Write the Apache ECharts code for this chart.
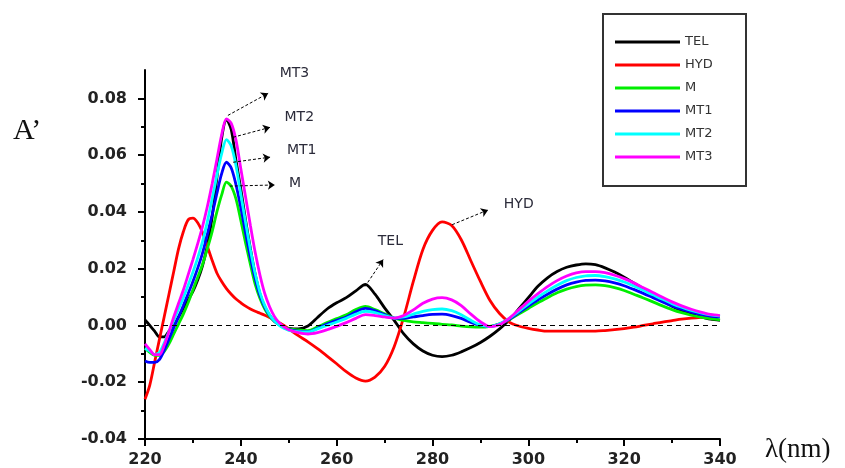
<!DOCTYPE html>
<html>
<head>
<meta charset="utf-8">
<script src="https://cdn.jsdelivr.net/npm/echarts@6/dist/echarts.min.js"></script>
<style>
  html, body { margin: 0; background: #fff; }
  #chart { width: 845px; height: 468px; }
</style>
</head>
<body>
<div id="chart"></div>
<script>
// wavelength grid (nm): 1 nm steps through the sharp peak, 2 nm after
const wavelength = [
  220, 221, 222, 223, 224, 225, 226, 227, 228, 229,
  230, 231, 232, 233, 234, 235, 236, 237, 238, 239,
  240, 241, 242, 243, 244, 245, 246, 247, 248, 249,
  250,
  252, 254, 256, 258, 260, 262, 264, 266, 268, 270,
  272, 274, 276, 278, 280, 282, 284, 286, 288, 290,
  292, 294, 296, 298, 300, 302, 304, 306, 308, 310,
  312, 314, 316, 318, 320, 322, 324, 326, 328, 330,
  332, 334, 336, 338, 340
];

const tel = [
  0.002, 0.000, -0.002, -0.004, -0.004, -0.002, 0.000, 0.003, 0.006, 0.009,
  0.012, 0.016, 0.021, 0.028, 0.038, 0.052, 0.066, 0.0725, 0.069, 0.058,
  0.048, 0.037, 0.027, 0.018, 0.011, 0.0065, 0.0035, 0.0015, 0.0003, -0.0005,
  -0.001,
  -0.0012, -0.0002, 0.0028, 0.0058, 0.008, 0.0098, 0.0122, 0.0145, 0.011, 0.0062,
  0.0018, -0.003, -0.0065, -0.009, -0.0105, -0.011, -0.0105, -0.0093, -0.0078, -0.006,
  -0.0038, -0.0012, 0.0018, 0.0058, 0.0098, 0.0138, 0.0168, 0.019, 0.0205, 0.0213,
  0.0217, 0.0214, 0.0203, 0.0188, 0.017, 0.015, 0.013, 0.0108, 0.0088, 0.0068,
  0.0052, 0.004, 0.003, 0.0022, 0.0018
];

const hyd = [
  -0.026, -0.021, -0.013, -0.005, 0.003, 0.011, 0.019, 0.027, 0.033, 0.0372,
  0.0378, 0.0362, 0.0328, 0.028, 0.023, 0.0185, 0.0155, 0.013, 0.011, 0.0093,
  0.008, 0.0068, 0.0058, 0.005, 0.0043, 0.0036, 0.0028, 0.002, 0.001, 0.0,
  -0.0012,
  -0.0036, -0.0058, -0.0082, -0.0108, -0.0135, -0.0163, -0.0185, -0.0196, -0.0182, -0.0145,
  -0.0075, 0.003, 0.0155, 0.0268, 0.0335, 0.0365, 0.0352, 0.0302, 0.0228, 0.0155,
  0.0088, 0.0042, 0.0012, -0.0002, -0.001, -0.0016, -0.002, -0.002, -0.002, -0.002,
  -0.002, -0.002, -0.0018, -0.0015, -0.0011, -0.0006, 0.0, 0.0006, 0.0012, 0.0017,
  0.0022, 0.0026, 0.0029, 0.0031, 0.0032
];

const m = [
  -0.008, -0.0095, -0.0105, -0.0105, -0.0092, -0.0065, -0.003, 0.0005, 0.004, 0.008,
  0.0125, 0.017, 0.0215, 0.027, 0.033, 0.040, 0.046, 0.0505, 0.049, 0.0445,
  0.037, 0.029, 0.0215, 0.0145, 0.0095, 0.0058, 0.0032, 0.0015, 0.0004, -0.0006,
  -0.0012,
  -0.0016, -0.0018, -0.0005, 0.001, 0.0024, 0.0038, 0.0056, 0.0067, 0.0056, 0.0041,
  0.0026, 0.0018, 0.0013, 0.001, 0.0007, 0.0004, 0.0002, -0.0002, -0.0005, -0.0006,
  -0.0003, 0.0006, 0.002, 0.004, 0.006, 0.008, 0.0098, 0.0115, 0.0128, 0.0137,
  0.0142, 0.0143, 0.014, 0.0133, 0.0123, 0.011, 0.0097, 0.0083, 0.0069, 0.0056,
  0.0045, 0.0036, 0.0029, 0.0024, 0.002
];

const mt1 = [
  -0.0125, -0.013, -0.013, -0.012, -0.0088, -0.0048, -0.0008, 0.003, 0.007, 0.0112,
  0.0155, 0.0202, 0.0255, 0.032, 0.039, 0.0465, 0.0535, 0.0575, 0.0555, 0.0495,
  0.0415, 0.0325, 0.024, 0.0165, 0.0105, 0.0065, 0.0036, 0.0016, 0.0003, -0.0008,
  -0.0015,
  -0.002, -0.0022, -0.001, 0.0005, 0.0018, 0.003, 0.0048, 0.006, 0.0052, 0.0038,
  0.0026, 0.0025, 0.003, 0.0035, 0.0039, 0.004, 0.0035, 0.0025, 0.0011, 0.0001,
  -0.0004, 0.0005, 0.0022, 0.0045, 0.0068, 0.009, 0.011, 0.0128, 0.0143, 0.0153,
  0.0159, 0.016, 0.0157, 0.015, 0.014, 0.0127, 0.0113, 0.0098, 0.0083, 0.0069,
  0.0057, 0.0047, 0.0039, 0.0033, 0.003
];

const mt2 = [
  -0.008, -0.009, -0.0102, -0.0095, -0.0062, -0.0022, 0.0018, 0.0058, 0.0098, 0.0142,
  0.0188, 0.0238, 0.0295, 0.0365, 0.0445, 0.0528, 0.0605, 0.0655, 0.0632, 0.0562,
  0.0462, 0.0362, 0.0267, 0.0182, 0.0116, 0.007, 0.0038, 0.0016, 0.0, -0.001,
  -0.0017,
  -0.0022, -0.0023, -0.0012, 0.0, 0.0012, 0.0025, 0.004, 0.005, 0.0045, 0.0035,
  0.0026, 0.003, 0.004, 0.005, 0.0056, 0.0058, 0.0052, 0.0038, 0.0018, 0.0002,
  -0.0004, 0.0006, 0.0025, 0.005, 0.0075, 0.01, 0.0122, 0.0142, 0.0158, 0.0169,
  0.0175, 0.0176, 0.0172, 0.0164, 0.0153, 0.0139, 0.0124, 0.0108, 0.0092, 0.0077,
  0.0064, 0.0053, 0.0044, 0.0037, 0.0033
];

const mt3 = [
  -0.0065, -0.0085, -0.0103, -0.0103, -0.007, -0.0022, 0.003, 0.0078, 0.0125, 0.0178,
  0.0232, 0.0288, 0.0348, 0.0418, 0.0498, 0.0585, 0.0672, 0.0728, 0.0712, 0.0652,
  0.0552, 0.0452, 0.0352, 0.0257, 0.0177, 0.0112, 0.0066, 0.0032, 0.001, -0.0005,
  -0.0015,
  -0.0025, -0.003, -0.0025, -0.0015, -0.0003, 0.001, 0.0025, 0.0038, 0.0035, 0.003,
  0.0026, 0.0035, 0.0055, 0.0078, 0.0093, 0.0098, 0.009, 0.007, 0.004, 0.0013,
  -0.0004, 0.0003, 0.0025, 0.0055, 0.0085, 0.0112, 0.0137, 0.0158, 0.0174, 0.0185,
  0.019, 0.019, 0.0186, 0.0177, 0.0165, 0.015, 0.0133, 0.0116, 0.0099, 0.0083,
  0.0069, 0.0057, 0.0047, 0.0039, 0.0035
];

const seriesNames = ["TEL", "HYD", "M", "MT1", "MT2", "MT3"];
const seriesValues = [tel, hyd, m, mt1, mt2, mt3];
const seriesColors = ["#000000", "#ff0000", "#00ee00", "#0000ff", "#00ffff", "#ff00ff"];

const yMajorTicks = [-0.04, -0.02, 0, 0.02, 0.04, 0.06, 0.08];
const yMinorTicks = [-0.03, -0.01, 0.01, 0.03, 0.05, 0.07];

// callout arrows (tail on the curve, head toward the label) and label centres, in data units
const arrowFrom = { MT3: [237.3, 0.0740], MT2: [238.4, 0.0663], MT1: [238.4, 0.0575], M: [237.7, 0.0491], TEL: [265.9, 0.0137], HYD: [284.1, 0.0355] };
const arrowTo   = { MT3: [245.7, 0.0818], MT2: [246.1, 0.0698], MT1: [246.1, 0.0593], M: [247.1, 0.0495], TEL: [269.7, 0.0232], HYD: [291.6, 0.0407] };
const labelAt   = { MT3: [251.2, 0.0888], MT2: [252.2, 0.0734], MT1: [252.7, 0.0618], M: [251.3, 0.0502], TEL: [271.2, 0.0295], HYD: [298.0, 0.0425] };

const TICK_FONT = { fontFamily: "DejaVu Sans", fontWeight: "bold", fontSize: 16, color: "#222" };
const NOTE_COLOR = "#2b2b3a";

const chart = echarts.init(document.getElementById("chart"), null, { renderer: "canvas" });

const series = seriesNames.map((name, k) => {
  const lines = [
    [{ coord: arrowFrom[name] }, { coord: arrowTo[name] }]
  ];
  if (name === "HYD") {
    // dashed zero baseline
    lines.push([
      { coord: [wavelength[0], 0], symbol: "none", lineStyle: { type: [5, 4], width: 1.2, color: "#000" } },
      { coord: [wavelength[wavelength.length - 1], 0], symbol: "none" }
    ]);
  }
  return {
    name,
    type: "line",
    color: seriesColors[k],
    showSymbol: false,
    smooth: 0.3,
    lineStyle: { width: 2.8, color: seriesColors[k] },
    data: wavelength.map((x, i) => [x, seriesValues[k][i]]),
    markLine: {
      silent: true,
      animation: false,
      symbol: ["none", "arrow"],
      symbolSize: 7,
      label: { show: false },
      lineStyle: { color: "#000", width: 1, type: [3, 2] },
      emphasis: { disabled: true },
      data: lines
    },
    markPoint: {
      silent: true,
      animation: false,
      symbol: "circle",
      symbolSize: 0,
      data: [{
        coord: labelAt[name],
        label: {
          show: true, position: "inside", formatter: name,
          color: NOTE_COLOR, fontFamily: "DejaVu Sans", fontSize: 14
        }
      }]
    }
  };
});

chart.setOption({
  animation: false,
  grid: { left: 145, right: 125, top: 70, bottom: 28 },
  legend: {
    data: seriesNames,
    orient: "vertical",
    left: 615,
    top: 35,
    itemWidth: 65,
    itemHeight: 3,
    itemGap: 9,
    icon: "rect",
    selectedMode: false,
    padding: 0,
    textStyle: { color: "#333", fontFamily: "DejaVu Sans", fontSize: 13, lineHeight: 14 }
  },
  xAxis: {
    type: "value",
    min: 220,
    max: 340,
    interval: 20,
    axisLine: { onZero: false, lineStyle: { color: "#000", width: 2 } },
    axisTick: { length: 7, lineStyle: { width: 2, color: "#000" } },
    minorTick: { show: true, splitNumber: 2, length: 4, lineStyle: { width: 2, color: "#000" } },
    splitLine: { show: false },
    axisLabel: Object.assign({ margin: 13 }, TICK_FONT)
  },
  yAxis: [
    {
      type: "value",
      min: -0.04,
      max: 0.09,
      axisLine: { show: true, onZero: false, lineStyle: { color: "#000", width: 2 } },
      axisTick: { show: true, length: 7, customValues: yMajorTicks, lineStyle: { width: 2, color: "#000" } },
      splitLine: { show: false },
      axisLabel: Object.assign({
        margin: 18,
        customValues: yMajorTicks,
        formatter: (v) => v.toFixed(2)
      }, TICK_FONT)
    },
    {
      type: "value",
      min: -0.04,
      max: 0.09,
      position: "left",
      axisLine: { show: false, onZero: false },
      axisTick: { show: true, length: 4, customValues: yMinorTicks, lineStyle: { width: 2, color: "#000" } },
      axisLabel: { show: false },
      splitLine: { show: false }
    }
  ],
  graphic: [
    {
      type: "rect",
      shape: { x: 603, y: 14, width: 143, height: 172 },
      style: { fill: "none", stroke: "#333", lineWidth: 2 },
      silent: true
    },
    {
      type: "text",
      left: 13, top: 116,
      style: { text: "A\u2019", font: "30px 'Liberation Serif'", fill: "#111" }
    },
    {
      type: "text",
      left: 765, top: 436,
      style: { text: "\u03bb(nm)", font: "27px 'Liberation Serif'", fill: "#111" }
    }
  ],
  series
});
</script>
</body>
</html>
